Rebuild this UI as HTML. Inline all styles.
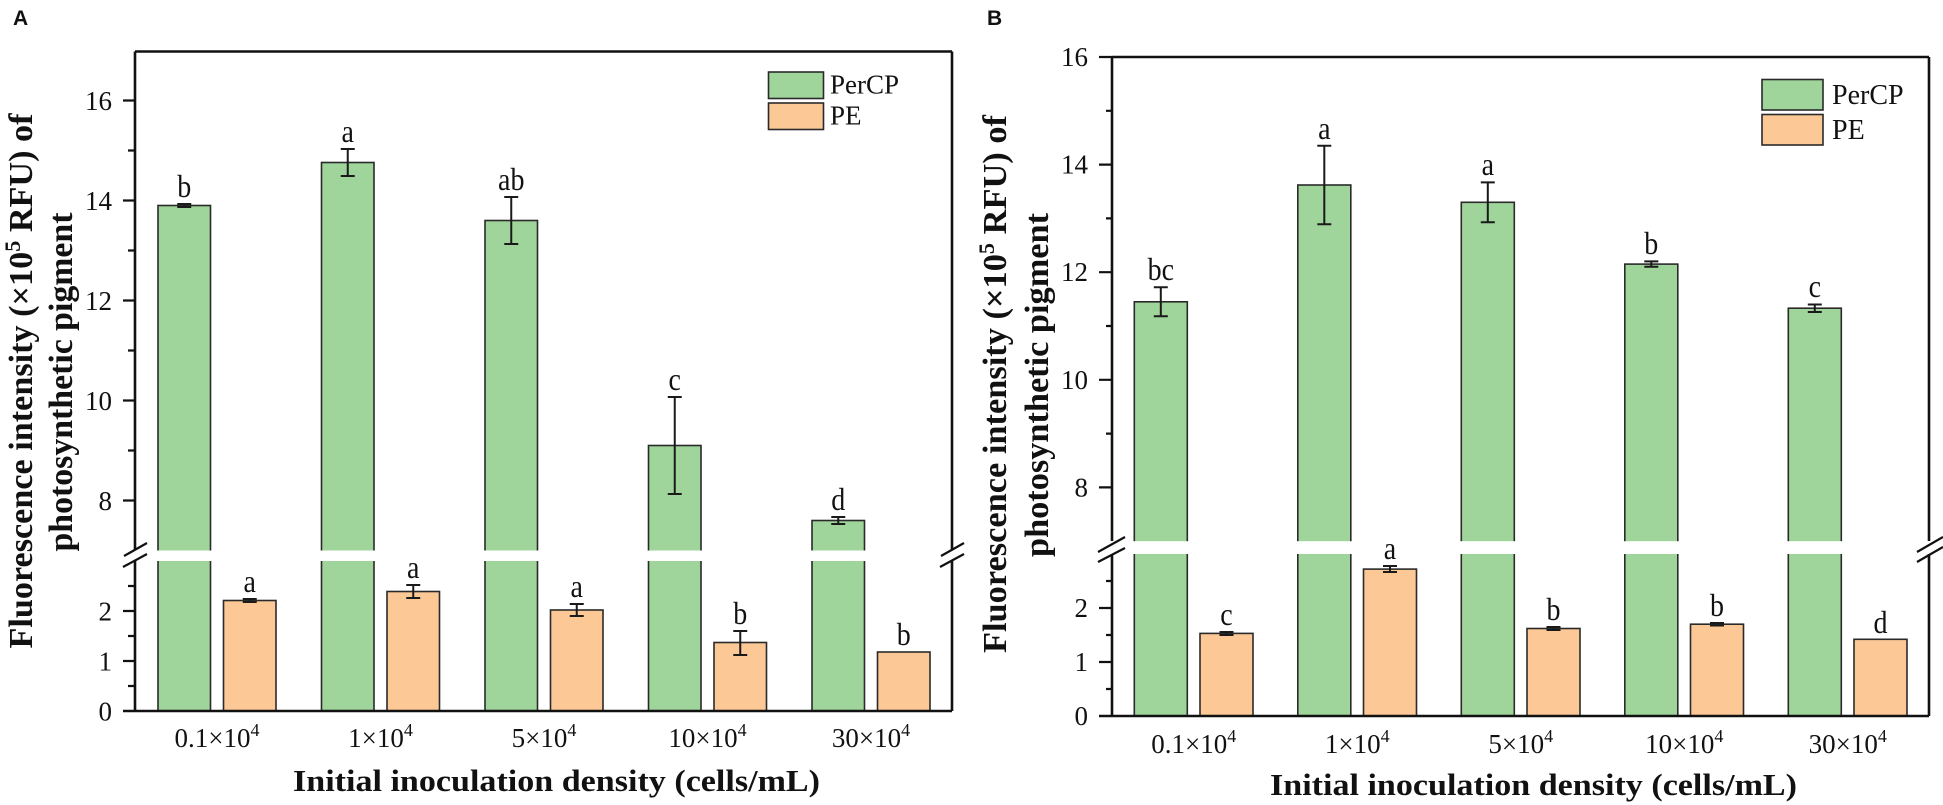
<!DOCTYPE html>
<html><head><meta charset="utf-8"><style>
html,body{margin:0;padding:0;background:#fff;}
svg{display:block;}
.t{font-family:"Liberation Serif",serif;font-size:27px;fill:#111;}
.tb{font-family:"Liberation Serif",serif;font-weight:bold;fill:#111;}
.lt{font-family:"Liberation Serif",serif;font-size:28px;fill:#111;}
.g{fill:#9fd49b;stroke:#2a2a2a;stroke-width:1.6;}
.o{fill:#fcc895;stroke:#2a2a2a;stroke-width:1.6;}
.ax{stroke:#111;stroke-width:2.6;fill:none;}
.tk{stroke:#111;stroke-width:2.2;}
.eb{stroke:#1a1a1a;stroke-width:2;fill:none;}
.br{stroke:#111;stroke-width:2.2;}
</style></head><body>
<svg width="1943" height="805" viewBox="0 0 1943 805" xmlns="http://www.w3.org/2000/svg">
<rect width="1943" height="805" fill="#fff"/>

<!-- ================= PANEL A ================= -->
<text x="13" y="25" style="font-family:'Liberation Sans',sans-serif;font-weight:bold;font-size:21px;fill:#111">A</text>

<!-- bars PerCP -->
<rect class="g" x="158" y="205.5" width="52.5" height="505.5"/>
<rect class="g" x="321.5" y="162.5" width="52.5" height="548.5"/>
<rect class="g" x="485" y="220.5" width="52.5" height="490.5"/>
<rect class="g" x="648.5" y="445.5" width="52.5" height="265.5"/>
<rect class="g" x="812" y="520.5" width="52.5" height="190.5"/>
<!-- bars PE -->
<rect class="o" x="223.5" y="600.5" width="52.5" height="110.5"/>
<rect class="o" x="387" y="591.5" width="52.5" height="119.5"/>
<rect class="o" x="550.5" y="610" width="52.5" height="101"/>
<rect class="o" x="714" y="642.5" width="52.5" height="68.5"/>
<rect class="o" x="877.5" y="652" width="52.5" height="59"/>
<!-- break gap -->
<rect x="136.5" y="550.5" width="814" height="10.5" fill="#fff"/>

<!-- error bars PerCP -->
<path class="eb" d="M184.25 204V207M177.25 204H191.25M177.25 207H191.25"/>
<path class="eb" d="M347.75 149V176M340.75 149H354.75M340.75 176H354.75"/>
<path class="eb" d="M511.25 197V244M504.25 197H518.25M504.25 244H518.25"/>
<path class="eb" d="M674.75 397V494M667.75 397H681.75M667.75 494H681.75"/>
<path class="eb" d="M838.25 517V524M831.25 517H845.25M831.25 524H845.25"/>
<!-- error bars PE -->
<path class="eb" d="M249.75 599V602M242.75 599H256.75M242.75 602H256.75"/>
<path class="eb" d="M413.25 585V598M406.25 585H420.25M406.25 598H420.25"/>
<path class="eb" d="M576.75 604V616M569.75 604H583.75M569.75 616H583.75"/>
<path class="eb" d="M740.25 631V655M733.25 631H747.25M733.25 655H747.25"/>

<!-- letters -->
<g class="lt" text-anchor="middle">
<text transform="translate(184.25,197) scale(1,1.15)">b</text>
<text transform="translate(347.75,142) scale(1,1.15)">a</text>
<text transform="translate(511.25,190) scale(1,1.15)">ab</text>
<text transform="translate(674.75,390) scale(1,1.15)">c</text>
<text transform="translate(838.25,510) scale(1,1.15)">d</text>
<text transform="translate(249.75,592) scale(1,1.15)">a</text>
<text transform="translate(413.25,578) scale(1,1.15)">a</text>
<text transform="translate(576.75,597) scale(1,1.15)">a</text>
<text transform="translate(740.25,624) scale(1,1.15)">b</text>
<text transform="translate(903.75,645) scale(1,1.15)">b</text>
</g>

<!-- axes frame -->
<path class="ax" d="M135 51.5V550M135 561V711M135 51.5H952M952 51.5V550M952 561V711M123 711H952"/>
<!-- y ticks -->
<path class="tk" d="M123 100.5H135M123 200.5H135M123 300.5H135M123 400.5H135M123 500.5H135M128 150.5H135M128 250.5H135M128 350.5H135M128 450.5H135M123 611H135M123 661H135M128 586H135M128 636H135M128 686H135"/>
<g class="t" text-anchor="end">
<text x="112" y="110">16</text>
<text x="112" y="210">14</text>
<text x="112" y="310">12</text>
<text x="112" y="410">10</text>
<text x="112" y="510">8</text>
<text x="112" y="620.5">2</text>
<text x="112" y="670.5">1</text>
<text x="112" y="720.5">0</text>
</g>
<!-- break marks -->
<path class="br" d="M124 556L147 543M123 567L147 554M941 556L964 543M940 567L964 554"/>

<!-- x tick labels -->
<g class="t" text-anchor="middle">
<text x="217" y="747">0.1×10<tspan dy="-11" font-size="18">4</tspan></text>
<text x="380.5" y="747">1×10<tspan dy="-11" font-size="18">4</tspan></text>
<text x="544" y="747">5×10<tspan dy="-11" font-size="18">4</tspan></text>
<text x="707.5" y="747">10×10<tspan dy="-11" font-size="18">4</tspan></text>
<text x="871" y="747">30×10<tspan dy="-11" font-size="18">4</tspan></text>
</g>
<text class="tb" x="293" y="791" font-size="31" textLength="527" lengthAdjust="spacingAndGlyphs">Initial inoculation density (cells/mL)</text>

<!-- y title -->
<text class="tb" font-size="34" text-anchor="middle" transform="translate(32,381) rotate(-90)" textLength="535" lengthAdjust="spacingAndGlyphs">Fluorescence intensity (×10<tspan dy="-12" font-size="22">5</tspan><tspan dy="12"> RFU) of</tspan></text>
<text class="tb" font-size="34" text-anchor="middle" transform="translate(72,382) rotate(-90)" textLength="339" lengthAdjust="spacingAndGlyphs">photosynthetic pigment</text>

<!-- legend -->
<rect class="g" x="768.5" y="72" width="55" height="26.5"/>
<rect class="o" x="768.5" y="103" width="55" height="26.5"/>
<text class="t" x="830" y="93.5">PerCP</text>
<text class="t" x="830" y="124.5">PE</text>

<!-- ================= PANEL B ================= -->
<text x="987" y="25" style="font-family:'Liberation Sans',sans-serif;font-weight:bold;font-size:21px;fill:#111">B</text>

<rect class="g" x="1134.3" y="301.8" width="53" height="414.2"/>
<rect class="g" x="1297.8" y="185" width="53" height="531"/>
<rect class="g" x="1461.3" y="202.3" width="53" height="513.7"/>
<rect class="g" x="1624.8" y="264.1" width="53" height="451.9"/>
<rect class="g" x="1788.3" y="308.2" width="53" height="407.8"/>
<rect class="o" x="1200" y="633.4" width="53" height="82.6"/>
<rect class="o" x="1363.5" y="569.1" width="53" height="146.9"/>
<rect class="o" x="1527" y="628.5" width="53" height="87.5"/>
<rect class="o" x="1690.5" y="624.2" width="53" height="91.8"/>
<rect class="o" x="1854" y="639.3" width="53" height="76.7"/>
<rect x="1113.5" y="541.2" width="814" height="12.8" fill="#fff"/>

<path class="eb" d="M1160.8 287.3V316.3M1153.8 287.3H1167.8M1153.8 316.3H1167.8"/>
<path class="eb" d="M1324.3 145.8V224.3M1317.3 145.8H1331.3M1317.3 224.3H1331.3"/>
<path class="eb" d="M1487.8 182.4V222.2M1480.8 182.4H1494.8M1480.8 222.2H1494.8"/>
<path class="eb" d="M1651.3 261.4V266.8M1644.3 261.4H1658.3M1644.3 266.8H1658.3"/>
<path class="eb" d="M1814.8 304.5V312M1807.8 304.5H1821.8M1807.8 312H1821.8"/>
<path class="eb" d="M1226.5 632V635M1219.5 632H1233.5M1219.5 635H1233.5"/>
<path class="eb" d="M1390 566V572M1383 566H1397M1383 572H1397"/>
<path class="eb" d="M1553.5 627V630M1546.5 627H1560.5M1546.5 630H1560.5"/>
<path class="eb" d="M1717 623V625.5M1710 623H1724M1710 625.5H1724"/>

<g class="lt" text-anchor="middle">
<text transform="translate(1160.8,280) scale(1,1.15)">bc</text>
<text transform="translate(1324.3,139) scale(1,1.15)">a</text>
<text transform="translate(1487.8,175) scale(1,1.15)">a</text>
<text transform="translate(1651.3,254) scale(1,1.15)">b</text>
<text transform="translate(1814.8,297) scale(1,1.15)">c</text>
<text transform="translate(1226.5,625) scale(1,1.15)">c</text>
<text transform="translate(1390,559) scale(1,1.15)">a</text>
<text transform="translate(1553.5,620) scale(1,1.15)">b</text>
<text transform="translate(1717,616) scale(1,1.15)">b</text>
<text transform="translate(1880.5,633) scale(1,1.15)">d</text>
</g>

<path class="ax" d="M1112 57V541M1112 554V716M1112 57H1929M1929 57V541M1929 554V716M1099 716H1929"/>
<path class="tk" d="M1099 57H1112M1099 164.6H1112M1099 272.2H1112M1099 379.8H1112M1099 487.4H1112M1106 110.8H1112M1106 218.4H1112M1106 326H1112M1106 433.6H1112M1099 608H1112M1099 662H1112M1106 581H1112M1106 635H1112M1106 689H1112"/>
<g class="t" text-anchor="end">
<text x="1088" y="66">16</text>
<text x="1088" y="173.6">14</text>
<text x="1088" y="281.2">12</text>
<text x="1088" y="388.8">10</text>
<text x="1088" y="496.4">8</text>
<text x="1088" y="617">2</text>
<text x="1088" y="671">1</text>
<text x="1088" y="725">0</text>
</g>
<path class="br" d="M1098 552L1125 537M1098 562L1125 548M1917 552L1943 537M1917 562L1943 547"/>

<g class="t" text-anchor="middle">
<text x="1193.8" y="753">0.1×10<tspan dy="-11" font-size="18">4</tspan></text>
<text x="1357.3" y="753">1×10<tspan dy="-11" font-size="18">4</tspan></text>
<text x="1520.8" y="753">5×10<tspan dy="-11" font-size="18">4</tspan></text>
<text x="1684.3" y="753">10×10<tspan dy="-11" font-size="18">4</tspan></text>
<text x="1847.8" y="753">30×10<tspan dy="-11" font-size="18">4</tspan></text>
</g>
<text class="tb" x="1270" y="795" font-size="31" textLength="527" lengthAdjust="spacingAndGlyphs">Initial inoculation density (cells/mL)</text>

<text class="tb" font-size="34" text-anchor="middle" transform="translate(1006,384) rotate(-90)" textLength="538" lengthAdjust="spacingAndGlyphs">Fluorescence intensity (×10<tspan dy="-12" font-size="22">5</tspan><tspan dy="12"> RFU) of</tspan></text>
<text class="tb" font-size="34" text-anchor="middle" transform="translate(1048,385) rotate(-90)" textLength="344" lengthAdjust="spacingAndGlyphs">photosynthetic pigment</text>

<rect class="g" x="1762" y="79.5" width="61" height="30.5"/>
<rect class="o" x="1762" y="114.5" width="61" height="30.5"/>
<text class="t" x="1832" y="104" style="font-size:28px">PerCP</text>
<text class="t" x="1832" y="139" style="font-size:28px">PE</text>
</svg>
</body></html>
